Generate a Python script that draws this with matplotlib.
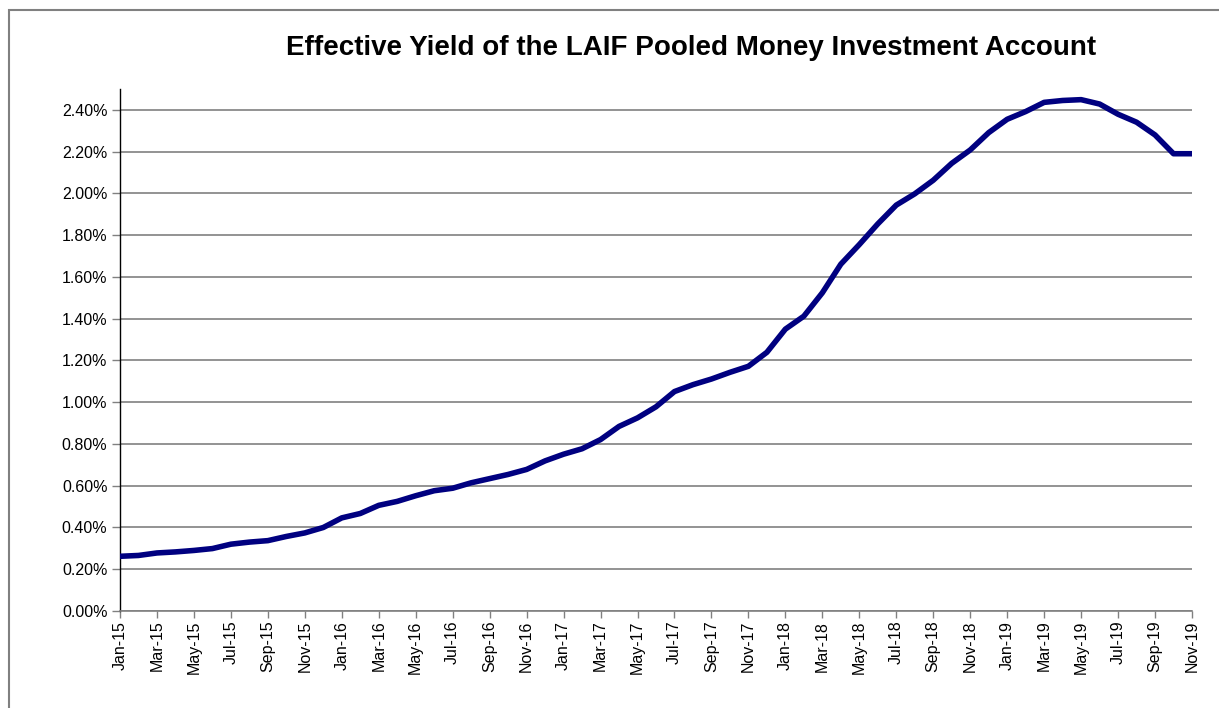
#!/usr/bin/env python3
"""Effective yield of the LAIF pooled money investment account, Jan-15 to Nov-19."""
import matplotlib
matplotlib.use('Agg')
import matplotlib.pyplot as plt
import matplotlib.patches as patches
from matplotlib.ticker import FuncFormatter, MultipleLocator
import numpy as np

plt.rcParams['font.family'] = ['Liberation Sans', 'DejaVu Sans']

# monthly data, Jan 2015 .. Nov 2019 (percent)
months = ['Jan', 'Feb', 'Mar', 'Apr', 'May', 'Jun',
          'Jul', 'Aug', 'Sep', 'Oct', 'Nov', 'Dec']
years = ['15', '16', '17', '18', '19']
yield_pct = [
    0.262, 0.266, 0.278, 0.283, 0.290, 0.299, 0.320, 0.330, 0.337, 0.357, 0.374, 0.400,
    0.446, 0.467, 0.506, 0.525, 0.552, 0.576, 0.588, 0.614, 0.634, 0.654, 0.678, 0.719,
    0.751, 0.777, 0.821, 0.884, 0.925, 0.978, 1.051, 1.084, 1.111, 1.143, 1.172, 1.239,
    1.350, 1.412, 1.524, 1.661, 1.755, 1.854, 1.944, 1.998, 2.063, 2.144, 2.208, 2.291,
    2.355, 2.392, 2.436, 2.445, 2.449, 2.428, 2.379, 2.341, 2.280, 2.190, 2.190,
]
labels = [f'{m}-{y}' for y in years for m in months][:len(yield_pct)]
x = np.arange(len(yield_pct))

fig = plt.figure(figsize=(12.19, 7.08), dpi=100)
ax = fig.add_axes([120/1219, 1-611/708, (1192-120)/1219, (611-89)/708])

ax.plot(x, yield_pct, color='#000080', lw=4.0, solid_capstyle='butt', zorder=3)

ax.set_xlim(0, len(yield_pct)-1)
ax.set_ylim(0, 2.5)
ax.yaxis.set_major_locator(MultipleLocator(0.2))
ax.yaxis.set_major_formatter(FuncFormatter(lambda v, p: f'{v:.2f}%'))
ax.set_xticks(x[::2])
ax.set_xticklabels(labels[::2], rotation=90, va='top', ha='center')

ax.grid(axis='y', color='#808080', lw=1.2)
ax.set_axisbelow(True)
for s in ['top', 'right']:
    ax.spines[s].set_visible(False)
ax.spines['left'].set_color('black')
ax.spines['left'].set_linewidth(1.0)
ax.spines['bottom'].set_color('#808080')
ax.spines['bottom'].set_linewidth(1.2)
ax.tick_params(axis='y', length=6, width=1, color='#808080', labelsize=11.5, pad=3)
ax.tick_params(axis='x', length=5, width=1, color='#808080', labelsize=11.5, pad=2)

fig.text(691/1219, 1-48/708, 'Effective Yield of the LAIF Pooled Money Investment Account',
         ha='center', va='center', fontsize=20, fontweight='bold')

# outer chart border
fig.patches.append(patches.Rectangle((9/1219, -0.05), 1.1, 1-10/708+0.05,
                                     transform=fig.transFigure, fill=False,
                                     edgecolor='#808080', lw=1.5))

fig.savefig('out.png', dpi=100)
